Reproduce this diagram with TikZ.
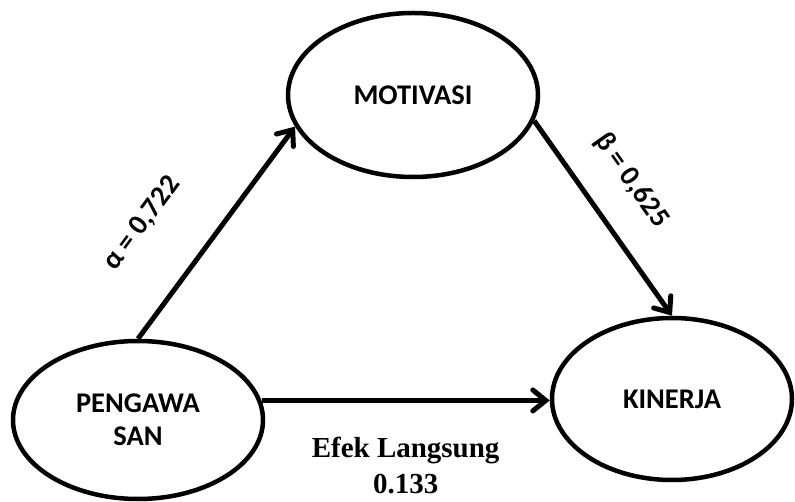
\documentclass[tikz,border=0pt]{standalone}
\usepackage{fontspec}
\setmainfont{Carlito}
\newfontfamily\timesfont{Liberation Serif}
\usetikzlibrary{shapes.geometric,arrows.meta}
\begin{document}
\begin{tikzpicture}[x=1pt, y=-1pt,
  varbox/.style={ellipse, draw, line width=4.5pt, inner sep=0pt,
    font=\fontsize{28.5}{33}\selectfont\bfseries, align=center},
  path/.style={line width=5pt, -{Straight Barb[length=13pt,width=21pt,line cap=round]}},
  coef/.style={font=\fontsize{28.5}{33}\selectfont\bfseries, sloped}]
  \useasboundingbox (0,0) rectangle (795,502);
  % Variables
  \node[varbox, minimum width=250pt, minimum height=158pt] (peng) at (138,420) {PENGAWA\\SAN};
  \node[varbox, minimum width=250pt, minimum height=164pt] (mot) at (413,95) {MOTIVASI};
  \node[varbox, minimum width=240pt, minimum height=162pt] (kin) at (672,399) {KINERJA};
  % Paths
  \draw[path] (peng.north) -- (mot.195)
    node[coef, pos=0.36, yshift=65pt] {α = 0,722};
  \draw[path] (mot.-12) -- (kin.north)
    node[coef, pos=0.44, yshift=45pt] {β = 0,625};
  \draw[path] (peng.9) -- (kin.west |- peng.9)
    node[pos=0.5, below=31pt, align=center, font=\timesfont\fontsize{29}{36}\selectfont\bfseries] (direct) {Efek Langsung\\0.133};
\end{tikzpicture}
\end{document}
